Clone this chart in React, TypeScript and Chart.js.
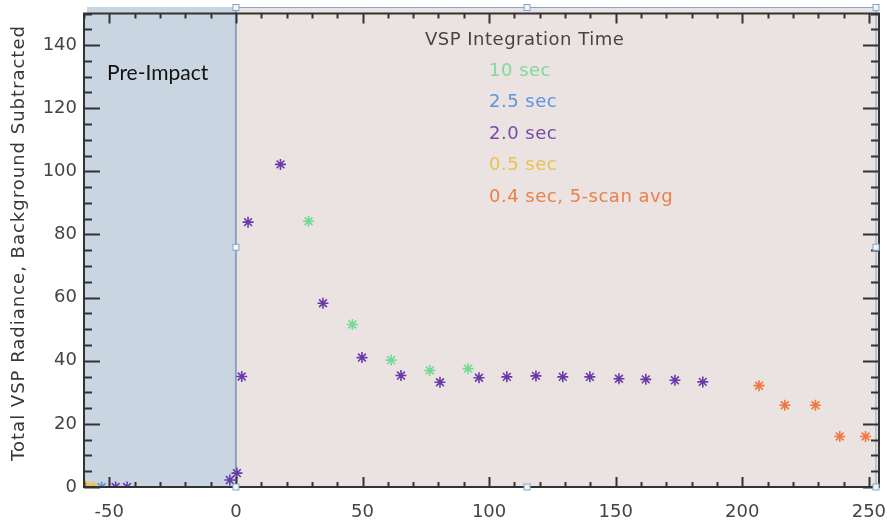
import React, { useEffect, useRef } from 'react';
import { Chart, registerables } from 'chart.js';

Chart.register(...registerables);

// ---- data ----
const seriesLabels = ['10 sec', '2.5 sec', '2.0 sec', '0.5 sec', '0.4 sec, 5-scan avg'];
const seriesColors = ['#6fdc8f', '#4f98e6', '#6a3aac', '#f0c040', '#f0783c'];
const legendTextColors = ['#7fd89c', '#5a96e0', '#7a4aa8', '#e9c250', '#ea8048'];

const sec10X = [28.7, 46, 61.3, 76.6, 91.7];
const sec10Y = [84.2, 51.5, 40.2, 36.9, 37.5];

const sec25X = [-53];
const sec25Y = [0];

const sec20X = [-47.5, -43, -2.4, 0.4, 2.3, 4.8, 17.6, 34.4, 49.8, 65.2, 80.6, 96, 107, 118.5, 129.1, 139.8, 151.3, 161.9, 173.4, 184.4];
const sec20Y = [0, 0, 2.2, 4.4, 35, 83.9, 102.2, 58.2, 41, 35.3, 33.2, 34.6, 34.9, 35.2, 34.9, 34.9, 34.3, 34.1, 33.8, 33.3];

const sec05X = [-59.5, -56];
const sec05Y = [0.5, 0];

const sec04X = [206.6, 216.8, 228.9, 238.5, 248.7];
const sec04Y = [32.1, 25.9, 25.9, 16, 16];

const seriesX = [sec10X, sec25X, sec20X, sec05X, sec04X];
const seriesY = [sec10Y, sec25Y, sec20Y, sec05Y, sec04Y];

const xTickValues = [-50, 0, 50, 100, 150, 200, 250];
const yTickValues = [0, 20, 40, 60, 80, 100, 120, 140];
const xMin = -60;
const xMax = 254;
const yMin = 0;
const yMax = 150;

const yTitle = 'Total VSP Radiance, Background Subtracted';
const legendTitle = 'VSP Integration Time';
const regionLabel = 'Pre-Impact';

const AXIS_FONT = '"DejaVu Sans", sans-serif';

const decorPlugin = {
  id: 'decor',
  beforeDatasetsDraw(chart: any) {
    const { ctx, chartArea: a, scales } = chart;
    const xs = scales.x;
    const x0 = xs.getPixelForValue(0);
    const topExt = a.top - 6.5;
    ctx.save();
    // pink post-impact region
    ctx.fillStyle = '#ebe2e2';
    ctx.fillRect(x0, topExt, a.right - x0, a.bottom - topExt);
    // blue pre-impact region
    ctx.fillStyle = '#cad5e2';
    ctx.fillRect(a.left + 3, topExt, x0 - a.left - 3, a.top - topExt);
    ctx.fillRect(a.left, a.top, x0 - a.left, a.bottom - a.top);
    // divider line at 0
    ctx.strokeStyle = '#8aa3c2';
    ctx.lineWidth = 2;
    ctx.beginPath();
    ctx.moveTo(x0, topExt);
    ctx.lineTo(x0, a.bottom);
    ctx.stroke();
    // selection-like frame lines
    ctx.lineWidth = 1;
    ctx.beginPath();
    ctx.moveTo(x0, topExt + 0.5);
    ctx.lineTo(a.right - 3, topExt + 0.5);
    ctx.moveTo(a.right - 3, topExt);
    ctx.lineTo(a.right - 3, a.bottom);
    ctx.stroke();

    // Pre-Impact label
    ctx.fillStyle = '#111111';
    ctx.font = '21px Lato, "Open Sans", sans-serif';
    ctx.textAlign = 'left';
    ctx.textBaseline = 'middle';
    ctx.fillText(regionLabel, a.left + 23, a.top + 60);

    // legend
    ctx.font = '18px ' + AXIS_FONT;
    try { (ctx as any).letterSpacing = '0.5px'; } catch (e) {}
    ctx.fillStyle = '#454545';
    ctx.fillText(legendTitle, 425, 40);
    seriesLabels.forEach((lab, i) => {
      ctx.fillStyle = legendTextColors[i];
      ctx.fillText(lab, 489, 71 + i * 31.5);
    });
    ctx.restore();
  },
  afterDraw(chart: any) {
    const { ctx, chartArea: a, scales } = chart;
    const xs = scales.x;
    const ys = scales.y;
    ctx.save();
    ctx.strokeStyle = '#333333';
    ctx.lineWidth = 2;
    ctx.strokeRect(a.left, a.top, a.right - a.left, a.bottom - a.top);
    ctx.beginPath();
    for (let v = Math.ceil(xMin / 10) * 10; v <= xMax; v += 10) {
      const px = Math.round(xs.getPixelForValue(v)) + 0.5;
      const len = v % 50 === 0 ? 10 : 5;
      ctx.moveTo(px, a.bottom);
      ctx.lineTo(px, a.bottom - len);
      ctx.moveTo(px, a.top);
      ctx.lineTo(px, a.top + len);
    }
    for (let v = yMin; v <= yMax; v += 5) {
      const py = Math.round(ys.getPixelForValue(v)) + 0.5;
      const len = v % 20 === 0 ? 16 : 8;
      ctx.moveTo(a.left, py);
      ctx.lineTo(a.left + len, py);
      ctx.moveTo(a.right, py);
      ctx.lineTo(a.right - len, py);
    }
    ctx.stroke();

    // selection handles
    const x0 = xs.getPixelForValue(0);
    const rx = a.right - 3;
    const ty = a.top - 6;
    const midY = (ty + a.bottom) / 2;
    const midX = xs.getPixelForValue(115);
    const handles = [
      [x0, ty], [midX, ty], [rx, ty],
      [x0, midY], [rx, midY],
      [x0, a.bottom], [midX, a.bottom], [rx, a.bottom],
    ];
    ctx.lineWidth = 1;
    ctx.strokeStyle = '#8aa3c2';
    ctx.fillStyle = '#eef6fb';
    handles.forEach(([hx, hy]) => {
      ctx.fillRect(hx - 3, hy - 3, 6, 6);
      ctx.strokeRect(hx - 3, hy - 3, 6, 6);
    });

    // y axis title
    ctx.translate(19, 243);
    ctx.rotate(-Math.PI / 2);
    ctx.font = '18px ' + AXIS_FONT;
    ctx.fillStyle = '#383838';
    ctx.textAlign = 'center';
    ctx.textBaseline = 'middle';
    try { (ctx as any).letterSpacing = '1px'; } catch (e) {}
    ctx.fillText(yTitle, 0, 0);
    ctx.restore();
  },
};

export default function App() {
  const ref = useRef<HTMLCanvasElement | null>(null);
  useEffect(() => {
    if (!ref.current) return;
    const datasets = seriesLabels.map((label, i) => ({
      label,
      data: seriesX[i].map((xv, j) => ({ x: xv, y: seriesY[i][j] })),
      showLine: false,
      pointStyle: 'star',
      pointRadius: 5.5,
      pointBorderWidth: 1.6,
      borderColor: seriesColors[i],
      backgroundColor: seriesColors[i],
    }));
    const chart = new Chart(ref.current, {
      type: 'scatter',
      data: { datasets },
      options: {
        responsive: false,
        animation: false,
        layout: { padding: { top: 13.5, right: 8, left: 0, bottom: 0 } },
        plugins: { legend: { display: false }, tooltip: { enabled: false }, title: { display: false } },
        scales: {
          x: {
            type: 'linear',
            min: xMin,
            max: xMax,
            afterBuildTicks: (s: any) => { s.ticks = xTickValues.map((v) => ({ value: v })); },
            afterFit: (s: any) => { s.height = 34; s.paddingLeft = 0; s.paddingRight = 0; },
            grid: { display: false, drawTicks: false },
            border: { display: false },
            ticks: { font: { family: AXIS_FONT, size: 18 }, color: '#444444', padding: 15, maxRotation: 0, autoSkip: false },
          },
          y: {
            type: 'linear',
            min: yMin,
            max: yMax,
            afterBuildTicks: (s: any) => { s.ticks = yTickValues.map((v) => ({ value: v })); },
            afterFit: (s: any) => { s.width = 84; s.paddingTop = 0; s.paddingBottom = 0; },
            grid: { display: false, drawTicks: false },
            border: { display: false },
            ticks: { font: { family: AXIS_FONT, size: 18 }, color: '#444444', padding: 7, autoSkip: false },
          },
        },
      },
      plugins: [decorPlugin],
    } as any);
    return () => chart.destroy();
  }, []);
  return (
    <div style={{ position: 'fixed', left: 0, top: 0, width: 887, height: 521, background: '#ffffff' }}>
      <canvas ref={ref} width={887} height={521} style={{ display: 'block' }} />
    </div>
  );
}
